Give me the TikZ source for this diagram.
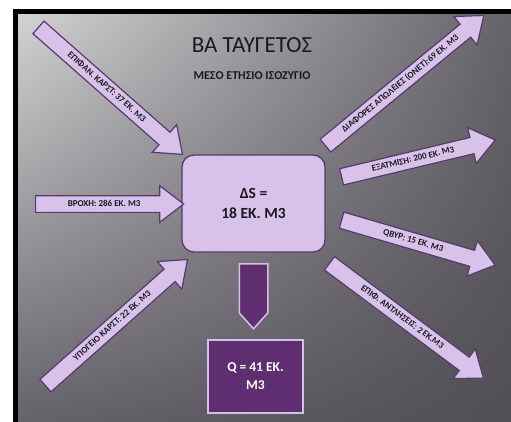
\documentclass[tikz,border=0pt]{standalone}
\usepackage{fontspec}
\setmainfont{Carlito}
\usetikzlibrary{shapes.arrows, shadings, positioning}
\definecolor{PageWhite}{RGB}{255, 255, 255}
\definecolor{FrameBlack}{RGB}{0, 0, 0}
\definecolor{BgLight}{RGB}{210, 210, 210}
\definecolor{BgMid}{RGB}{100, 97, 105}
\definecolor{BgDark}{RGB}{80, 77, 85}
\definecolor{Lavender}{RGB}{216, 194, 234}
\definecolor{PlumLine}{RGB}{88, 58, 108}
\definecolor{DeepPlum}{RGB}{94, 46, 112}
\definecolor{PaleRim}{RGB}{212, 192, 230}
\definecolor{InkDark}{RGB}{28, 24, 32}

\begin{document}
\begin{tikzpicture}[x=1pt, y=-1pt,
    flowarrow/.style={single arrow, draw=PlumLine, fill=Lavender, line width=1.2pt, single arrow head extend=10pt, single arrow tip angle=75, inner xsep=3pt, inner ysep=4pt, text height=6pt, text depth=1.5pt, anchor=tail, text=InkDark, font=\fontsize{9}{10}\selectfont\bfseries},
    outarrow/.style={single arrow, draw=PaleRim, fill=DeepPlum, line width=1.5pt, single arrow head extend=0pt, single arrow tip angle=84, inner xsep=0pt, inner ysep=13.5pt, anchor=tail}]
        \useasboundingbox (0,0) rectangle (511,421);
        % page, frame and background
        \fill[PageWhite] (0,0) rectangle (511,421);
        \fill[FrameBlack] (13,9) rectangle (515,425);
        \shade[upper left=BgLight, upper right=BgMid, lower left=BgMid, lower right=BgDark] (18,14) rectangle (515,425);
        % titles
        \node[text=InkDark, font=\fontsize{23}{26}\selectfont] (title) at (252,45) {ΒΑ ΤΑΥΓΕΤΟΣ};
        \node[text=InkDark, font=\fontsize{12}{14}\selectfont\bfseries, below=27pt of title.base, anchor=base] (subtitle) {ΜΕΣΟ ΕΤΗΣΙΟ ΙΣΟΖΥΓΙΟ};
        % storage box and outflow
        \node[draw=PlumLine, fill=Lavender, line width=1.3pt, rounded corners=12pt, minimum width=143pt, minimum height=97pt, align=center, text=InkDark, font=\fontsize{15.5}{20}\selectfont\bfseries] (ds) at (253.5,203.5) {ΔS =\\18 ΕΚ. Μ3};
        \node[outarrow, rotate=-90, minimum height=65pt] (outarr) at (253.5,263) {};
        \node[draw=PaleRim, fill=DeepPlum, line width=1.5pt, minimum width=95pt, minimum height=73pt, align=center, text=PageWhite, font=\fontsize{13.5}{18}\selectfont\bfseries] (q) at (255.5,376.5) {Q = 41 ΕΚ.\\Μ3};
        % inflows
        \node[flowarrow, rotate=-41.4, minimum height=192pt] (epifan) at (38,27) {ΕΠΙΦΑΝ. ΚΑΡΣΤ: 37 ΕΚ. Μ3};
        \node[flowarrow, minimum height=148pt] (vroxi) at (35,204) {ΒΡΟΧΗ: 286 ΕΚ. Μ3};
        \node[flowarrow, rotate=41.6, minimum height=190pt] (ypogeio) at (45,386) {ΥΠΟΓΕΙΟ ΚΑΡΣΤ: 22 ΕΚ. Μ3};
        % outflows
        \node[flowarrow, rotate=39.4, minimum height=205pt] (diafores) at (325,146) {ΔΙΑΦΟΡΕΣ ΑΠΩΛΕΙΕΣ (ΟΝΕΤ):69 ΕΚ. Μ3};
        \node[flowarrow, rotate=13.5, minimum height=158pt] (exatmisi) at (341,177) {ΕΞΑΤΜΙΣΗ: 200 ΕΚ. Μ3};
        \node[flowarrow, rotate=-16.3, minimum height=160pt] (qvyr) at (341,220) {QΒΥΡ: 15 ΕΚ. Μ3};
        \node[flowarrow, rotate=-36.7, minimum height=192pt] (antliseis) at (329,263) {ΕΠΙΦ. ΑΝΤΛΗΣΕΙΣ: 2 ΕΚ.Μ3};
    \end{tikzpicture}
\end{document}
